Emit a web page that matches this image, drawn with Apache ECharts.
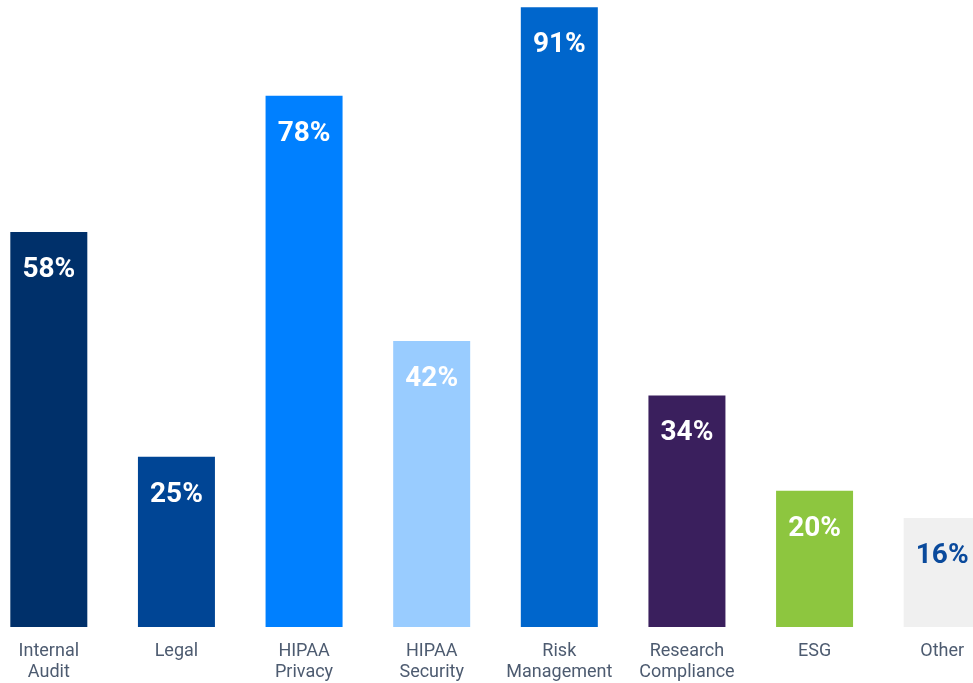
<!DOCTYPE html>
<html>
<head>
<meta charset="utf-8">
<script src="https://cdn.jsdelivr.net/npm/echarts@6/dist/echarts.min.js"></script>
<style>
  html, body { margin: 0; padding: 0; background: #ffffff; overflow: hidden; width: 973px; height: 683px; position: relative; }
  /* chart canvas is wider/taller than the window so the plot bleeds past the edges */
  #chart { position: absolute; left: -15px; top: -54px; width: 1021px; height: 737px; }
</style>
</head>
<body>
<div id="chart"></div>
<script>
// Share of respondents by function (percent)
const categories = ['Internal\nAudit', 'Legal', 'HIPAA\nPrivacy', 'HIPAA\nSecurity', 'Risk\nManagement', 'Research\nCompliance', 'ESG', 'Other'];
const values = [58, 25, 78, 42, 91, 34, 20, 16];
const barColors = ['#00306a', '#004595', '#0080ff', '#99ccff', '#0066cc', '#3a1f5d', '#8dc63f', '#f0f0f0'];
const labelColors = ['#ffffff', '#ffffff', '#ffffff', '#ffffff', '#ffffff', '#ffffff', '#ffffff', '#0a4a9c'];

const chart = echarts.init(document.getElementById('chart'), null, { renderer: 'canvas' });

chart.setOption({
  animation: false,
  grid: { left: 0, right: 0, top: 0, bottom: 51, containLabel: false },
  xAxis: {
    type: 'category',
    data: categories,
    axisLine: { show: false },
    axisTick: { show: false },
    axisLabel: {
      interval: 0,
      margin: 14,
      color: '#4d5b70',
      fontFamily: 'Roboto',
      fontSize: 18,
      lineHeight: 21
    }
  },
  yAxis: {
    type: 'value',
    min: 0,
    max: 100,
    show: false,
    splitLine: { show: false }
  },
  series: [{
    type: 'bar',
    barWidth: 77,
    data: values.map((v, i) => ({
      value: v,
      itemStyle: { color: barColors[i] },
      label: { color: labelColors[i] }
    })),
    label: {
      show: true,
      position: 'insideTop',
      distance: 24,
      formatter: '{c}%',
      fontFamily: 'Roboto',
      fontWeight: 'bold',
      fontSize: 28
    }
  }]
});
</script>
</body>
</html>
